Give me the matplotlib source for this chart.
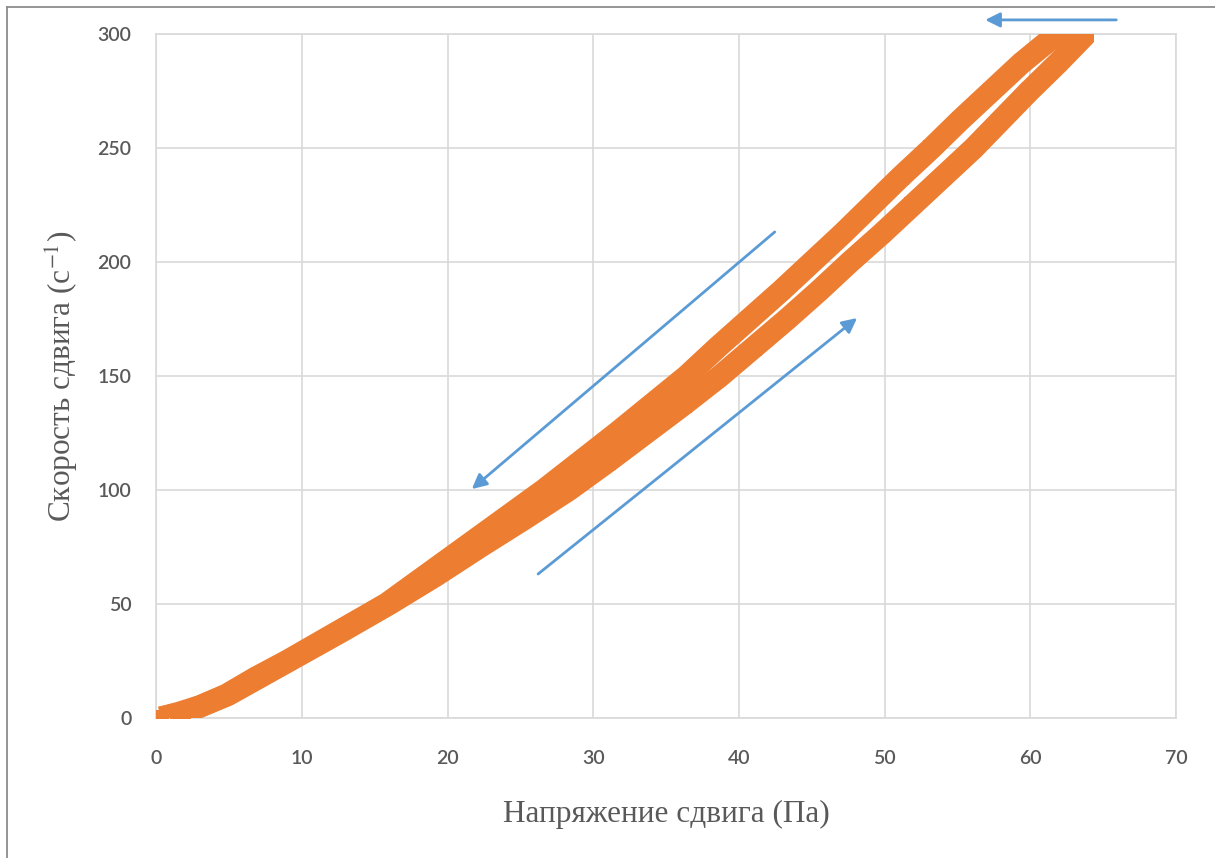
import matplotlib
matplotlib.use('Agg')
import matplotlib.pyplot as plt
from matplotlib.lines import Line2D

# прямой ход (нагружение): скорость сдвига растёт
up_rate = [0, 2, 5, 10, 17.5, 25, 37.5, 50, 62.5, 75, 87.5, 100, 112.5, 125, 137.5,
           150, 162.5, 175, 187.5, 200, 212.5, 225, 237.5, 250, 262.5, 275, 287.5, 300]
up_stress = [0.3, 1.8, 3.0, 4.9, 7.0, 9.1, 12.6, 16.0, 19.2, 22.2, 25.3, 28.3, 31.0, 33.6, 36.2,
             38.7, 41.0, 43.3, 45.5, 47.6, 49.8, 51.9, 54.0, 56.1, 58.0, 59.9, 61.9, 63.8]

# обратный ход (разгрузка)
down_rate = [300, 300, 299, 287.5, 275, 262.5, 250, 237.5, 225, 212.5, 200, 187.5, 175, 162.5,
             150, 137.5, 125, 112.5, 100, 87.5, 75, 62.5, 50, 37.5, 25, 17.5, 10, 5, 2, 0]
down_stress = [63.8, 62.7, 61.6, 59.4, 57.3, 55.2, 53.2, 51.1, 49.1, 47.1, 45.0, 42.9, 40.7, 38.5,
               36.4, 34.0, 31.6, 29.1, 26.6, 23.9, 21.2, 18.5, 15.8, 12.4, 9.0, 6.8, 4.8, 3.0, 1.5, 0.3]

x_ticks = [0, 10, 20, 30, 40, 50, 60, 70]
y_ticks = [0, 50, 100, 150, 200, 250, 300]

orange = '#ED7D31'
blue = '#5B9BD5'
grid_c = '#D9D9D9'
text_c = '#595959'

plt.rcParams['mathtext.fontset'] = 'stix'

fig = plt.figure(figsize=(12.15, 8.58), dpi=100)
ax = fig.add_axes([0.1288, 0.1635, 0.8391, 0.7963])

for xs, ys in [(up_stress, up_rate), (down_stress, down_rate)]:
    ax.plot(xs, ys, color=orange, lw=16.2, solid_capstyle='butt', solid_joinstyle='round', zorder=3)
    ax.plot(xs, ys, 's', color=orange, ms=11.5, mew=0, zorder=3)

ax.set_xlim(0, 70)
ax.set_ylim(0, 300)
ax.set_xticks(x_ticks)
ax.set_yticks(y_ticks)
ax.grid(True, color=grid_c, lw=1.2)
ax.set_axisbelow(True)
for s in ax.spines.values():
    s.set_color(grid_c)
    s.set_linewidth(1.2)
ax.tick_params(length=0, labelsize=14, labelcolor=text_c)
ax.tick_params(axis='x', pad=23)
ax.tick_params(axis='y', pad=18)
for lab in ax.get_xticklabels() + ax.get_yticklabels():
    lab.set_family('Lato')
    lab.set_weight('semibold')

ax.set_xlabel('Напряжение сдвига (Па)', family='Liberation Serif', fontsize=22.5,
              color=text_c, labelpad=24)
ax.set_ylabel('Скорость сдвига (с$^{-1}$)', family='Liberation Serif', fontsize=22.5,
              color=text_c, labelpad=12)

# стрелки направления хода
arrow = dict(arrowstyle='-|>', color=blue, lw=2, mutation_scale=22, shrinkA=0, shrinkB=0)
ax.annotate('', xy=(56.9, 306.4), xytext=(65.9, 306.4), arrowprops=arrow, annotation_clip=False)
ax.annotate('', xy=(21.65, 100.4), xytext=(42.45, 213.3), arrowprops=arrow)
ax.annotate('', xy=(48.1, 175.5), xytext=(26.2, 63.1), arrowprops=arrow)

# рамка области диаграммы
fig.add_artist(Line2D([6.5 / 1215, 1], [1 - 6.5 / 858, 1 - 6.5 / 858], color='#8C8C8C', lw=1.3))
fig.add_artist(Line2D([6.5 / 1215, 6.5 / 1215], [0, 1 - 6.5 / 858], color='#8C8C8C', lw=1.3))

fig.savefig('out.png', dpi=100)
